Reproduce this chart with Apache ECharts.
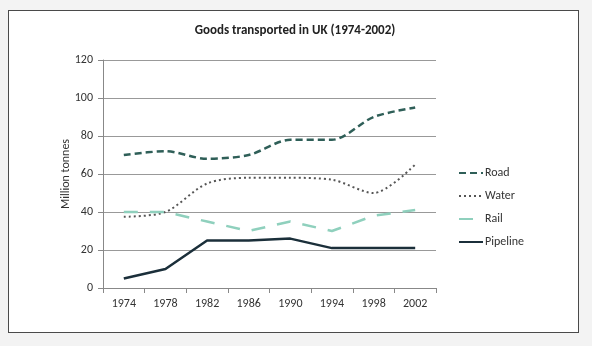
<!DOCTYPE html>
<html>
<head>
<meta charset="utf-8">
<script src="https://cdn.jsdelivr.net/npm/echarts@6/dist/echarts.min.js"></script>
<style>
  html, body { margin: 0; padding: 0; background: #f3f3f3; }
  #frame {
    position: absolute; left: 8px; top: 10px; width: 569px; height: 321px;
    border: 1.5px solid #4a4a4a; background: #fff;
  }
  #chart { position: absolute; left: 0; top: 0; width: 592px; height: 346px; }
</style>
</head>
<body>
<div id="frame"></div>
<div id="chart"></div>
<script>
// 数据
const years = ['1974', '1978', '1982', '1986', '1990', '1994', '1998', '2002'];
const road = [70, 72, 68, 70, 78, 78, 90, 95];
const water = [37.5, 40, 55, 58, 58, 57, 50, 65];
const rail = [40, 40, 35, 30, 35, 30, 38, 41];
const pipeline = [5, 10, 25, 25, 26, 21, 21, 21];

const font = 'Calibri, Carlito, Lato, sans-serif';
const chart = echarts.init(document.getElementById('chart'));

const option = {
  animation: false,
  textStyle: { fontFamily: font },
  title: {
    text: 'Goods transported in UK (1974-2002)',
    left: 290,
    textAlign: 'center',
    top: 19,
    textStyle: { fontSize: 13, fontWeight: 'bold', color: '#222', fontFamily: font },
  },
  grid: { left: 103, right: 156, top: 60, bottom: 58 },
  legend: {
    orient: 'vertical',
    left: 453,
    top: 162,
    itemGap: 11,
    itemWidth: 24,
    itemHeight: 12,
    itemStyle: { opacity: 0 },
    textStyle: { fontSize: 12, color: '#333', fontFamily: font, padding: [0, 0, 0, -3] },
    data: ['Road', 'Water', 'Rail', 'Pipeline'],
  },
  xAxis: {
    type: 'category',
    data: years,
    boundaryGap: true,
    axisLine: { lineStyle: { color: '#888' } },
    axisTick: { show: true, lineStyle: { color: '#888' } },
    axisLabel: { color: '#333', fontSize: 12, margin: 10 },
  },
  yAxis: {
    type: 'value',
    min: 0,
    max: 120,
    interval: 20,
    name: 'Million tonnes',
    nameLocation: 'middle',
    nameGap: 31,
    nameMoveOverlap: false,
    nameTextStyle: { fontSize: 12, color: '#333' },
    axisLine: { show: true, lineStyle: { color: '#888' } },
    axisTick: { show: true, lineStyle: { color: '#888' } },
    axisLabel: { color: '#333', fontSize: 12, margin: 10 },
    splitLine: { lineStyle: { color: '#999', width: 1 } },
  },
  series: [
    {
      name: 'Road', type: 'line', data: road, symbol: 'none', smooth: 0.3,
      lineStyle: { color: '#2f5f58', width: 2.5, type: [7, 4] },
      itemStyle: { color: '#2f5f58' },
    },
    {
      name: 'Water', type: 'line', data: water, symbol: 'none', smooth: 0.3,
      lineStyle: { color: '#555', width: 2, type: [2, 3] },
      itemStyle: { color: '#555' },
    },
    {
      name: 'Rail', type: 'line', data: rail, symbol: 'none',
      lineStyle: { color: '#8fd0bd', width: 2.5, type: [14, 12] },
      itemStyle: { color: '#8fd0bd' },
    },
    {
      name: 'Pipeline', type: 'line', data: pipeline, symbol: 'none',
      lineStyle: { color: '#1b2f3a', width: 2.5 },
      itemStyle: { color: '#1b2f3a' },
    },
  ],
};
chart.setOption(option);
</script>
</body>
</html>
